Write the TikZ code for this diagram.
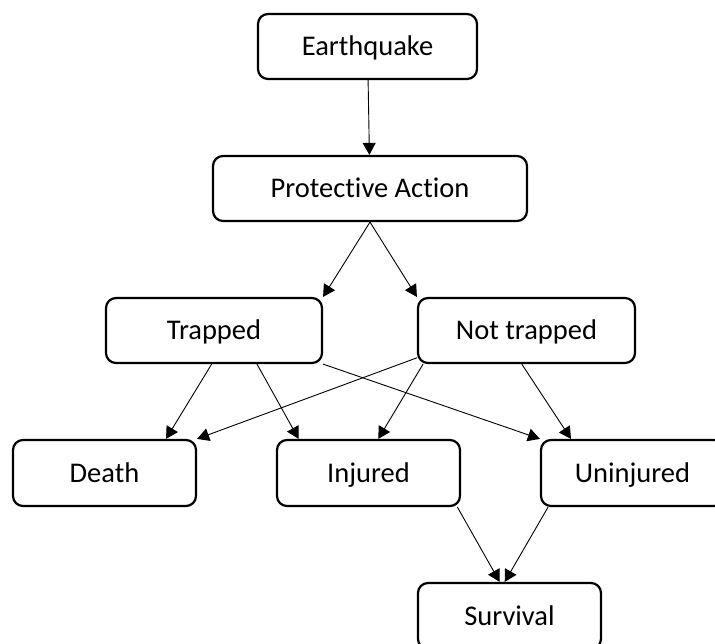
\documentclass[tikz,border=0pt]{standalone}
\usepackage{fontspec}
\setmainfont{Carlito}[Ligatures=NoCommon]
\usetikzlibrary{arrows.meta}

\begin{document}
\begin{tikzpicture}[x=1pt,y=-1pt,
    box/.style={draw,line width=2.2pt,rounded corners=10pt,minimum height=65pt,
      inner sep=0pt,text height=18pt,text depth=0pt,font=\fontsize{28.5}{33}\selectfont},
    arr/.style={line width=0.9pt,-{Triangle[length=12pt,width=13pt]}}]
  \useasboundingbox (0,0) rectangle (715,644);
  % boxes, top to bottom
  \node[box,minimum width=219pt] (quake) at (367.5,46.5) {Earthquake};
  \node[box,minimum width=314pt] (protect) at (370,188.5) {Protective Action};
  \node[box,minimum width=216pt] (trapped) at (214,330.5) {Trapped};
  \node[box,minimum width=217pt] (free) at (526.5,330.5) {Not trapped};
  \node[box,minimum width=183pt,minimum height=66pt] (death) at (104.5,473) {Death};
  \node[box,minimum width=183pt,minimum height=66pt] (injured) at (368.5,473) {Injured};
  \node[box,minimum width=183pt,minimum height=66pt] (uninjured) at (632.5,473) {Uninjured};
  \node[box,minimum width=183pt,minimum height=66pt] (survival) at (509.5,616) {Survival};
  % arrows
  \draw[arr] (quake) -- (protect);
  \draw[arr] (protect.south) -- (trapped.north east);
  \draw[arr] (protect.south) -- (free.north west);
  \draw[arr] (trapped.266) -- (death.29);
  \draw[arr] (trapped.322) -- (injured.154);
  \draw[arr] (trapped.south east) -- (uninjured.north west);
  \draw[arr] (free.194) -- (death.north east);
  \draw[arr] (free.198) -- (injured.74);
  \draw[arr] (free.262) -- (uninjured.151);
  \draw[arr] (injured.339) -- (survival.106);
  \draw[arr] (uninjured.202) -- (survival.98);
\end{tikzpicture}
\end{document}
